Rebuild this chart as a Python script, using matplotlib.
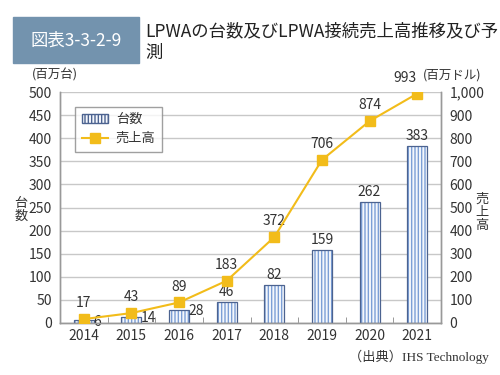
import matplotlib.pyplot as plt
from matplotlib.patches import Rectangle, Patch
from matplotlib.lines import Line2D
from matplotlib.ticker import FuncFormatter, MultipleLocator

plt.rcParams['font.family'] = ['Noto Sans CJK JP', 'DejaVu Sans']

years = ['2014', '2015', '2016', '2017', '2018', '2019', '2020', '2021']
units = [6, 14, 28, 46, 82, 159, 262, 383]          # 百万台
revenue = [17, 43, 89, 183, 372, 706, 874, 993]     # 百万ドル

txt = '#333333'
grid_c = '#c8c8c8'
line_c = '#f2bc1a'
bar_face = '#f4f7fc'
bar_hatch = '#7c9fd6'
bar_edge = '#4c6390'

fig = plt.figure(figsize=(5, 3.75), dpi=100)

# title box
fig.patches.append(Rectangle((13 / 500, 1 - 63 / 375), 126 / 500, 46 / 375,
                             transform=fig.transFigure, color='#7393ae', zorder=0))
fig.text(76 / 500, 1 - 41 / 375, '図表3-3-2-9', color='white', fontsize=12.5,
         ha='center', va='center')
fig.text(145 / 500, 1 - 31 / 375, 'LPWAの台数及びLPWA接続売上高推移及び予',
         color='#222222', fontsize=12.5, ha='left', va='center')
fig.text(145 / 500, 1 - 53 / 375, '測', color='#222222', fontsize=12.5,
         ha='left', va='center')

ax = fig.add_axes([60 / 500, 1 - 323 / 375, 381 / 500, 231 / 375])
ax2 = ax.twinx()

x = list(range(len(years)))
w = 0.42
# striped bars: pale fill with blue vertical hatch, then dark outline on top
ax.bar(x, units, width=w, color=bar_face, edgecolor=bar_hatch, hatch='|||||',
       linewidth=0, zorder=2)
ax.bar(x, units, width=w, fill=False, edgecolor=bar_edge, linewidth=0.9, zorder=3)

for i, v in enumerate(units):
    if v < 30:
        ax.text(i + w / 2 - 0.02, v - 3, str(v), ha='left', va='center',
                fontsize=10, color=txt, zorder=5)
    else:
        ax.text(i, v + 6, str(v), ha='center', va='bottom', fontsize=10,
                color=txt, zorder=5)

ax2.plot(x, revenue, color=line_c, linewidth=1.5, marker='s', markersize=6.5,
         markerfacecolor=line_c, markeredgecolor=line_c, zorder=4)
for i, v in enumerate(revenue):
    dx = -0.25 if i == len(revenue) - 1 else 0
    ax2.text(i + dx, v + 38, str(v), ha='center', va='bottom', fontsize=10, color=txt)

ax.set_xlim(-0.5, len(years) - 0.5)
ax.set_ylim(0, 500)
ax2.set_ylim(0, 1000)
ax.yaxis.set_major_locator(MultipleLocator(50))
ax2.yaxis.set_major_locator(MultipleLocator(100))
ax2.yaxis.set_major_formatter(FuncFormatter(lambda v, p: f'{int(v):,}'))

ax.set_xticks(x)
ax.set_xticklabels(years)
ax.set_xticks([i + 0.5 for i in x[:-1]], minor=True)
ax.tick_params(axis='x', which='major', length=0, labelsize=10, colors=txt, pad=4)
ax.tick_params(axis='x', which='minor', length=4, direction='in', color='#888888')
ax.tick_params(axis='y', length=0, labelsize=10, colors=txt, pad=6)
ax2.tick_params(axis='y', length=0, labelsize=10, colors=txt, pad=6)

ax.grid(axis='y', color=grid_c, linewidth=1)
ax.set_axisbelow(True)
ax.set_zorder(ax2.get_zorder() - 1)
ax.patch.set_visible(True)
ax2.patch.set_visible(False)

for a in (ax, ax2):
    a.spines['top'].set_visible(False)
    for s in ('left', 'right', 'bottom'):
        a.spines[s].set_color('#999999')
        a.spines[s].set_linewidth(1)

# legend
h1 = Patch(facecolor=bar_face, edgecolor=bar_edge, hatch='|||||', label='台数')
h2 = Line2D([], [], color=line_c, marker='s', markersize=6.5, linewidth=1.5, label='売上高')
leg = ax2.legend(handles=[h1, h2], loc='upper left', bbox_to_anchor=(0.022, 0.965),
                 fontsize=9.5, frameon=True, fancybox=False, edgecolor='#888888',
                 handlelength=2.0, handletextpad=0.6, borderpad=0.5, labelspacing=0.45)
leg.get_frame().set_linewidth(1)
for t in leg.get_texts():
    t.set_color(txt)

# axis annotations
fig.text(55 / 500, 1 - 75 / 375, '(百万台)', fontsize=9, color=txt, ha='center', va='center')
fig.text(452 / 500, 1 - 75 / 375, '(百万ドル)', fontsize=9, color=txt, ha='center', va='center')
fig.text(21 / 500, 1 - 210 / 375, '台\n数', fontsize=9.5, color=txt, ha='center',
         va='center', linespacing=1.0)
fig.text(482 / 500, 1 - 212 / 375, '売\n上\n高', fontsize=9.5, color=txt, ha='center',
         va='center', linespacing=1.0)
fig.text(489 / 500, 1 - 357 / 375, '（出典）IHS Technology', fontsize=9.5, color=txt,
         ha='right', va='center', family=['Liberation Serif', 'Noto Sans CJK JP'])

fig.savefig('out.png', dpi=100)
